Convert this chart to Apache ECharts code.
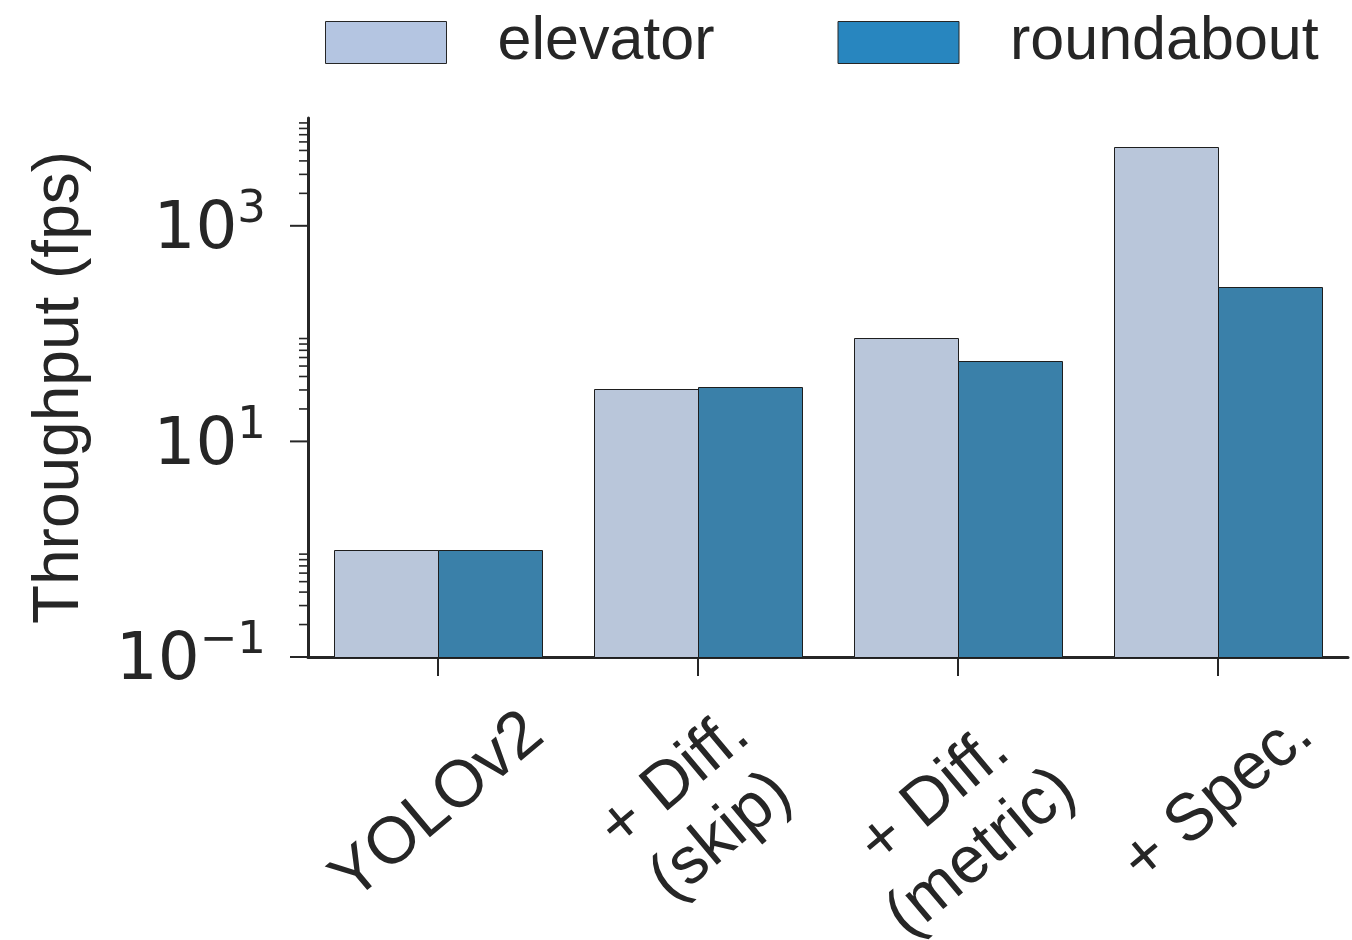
<!DOCTYPE html>
<html><head><meta charset="utf-8">
<script src="https://cdn.jsdelivr.net/npm/echarts@6/dist/echarts.min.js"></script>
<style>html,body{margin:0;padding:0;background:#fff}#c{width:1352px;height:940px}</style>
</head><body><div id="c"></div>
<script>
// ---- data ----
const categories = ['YOLOv2', '+ Diff.\n(skip)', '+ Diff.\n(metric)', '+ Spec.'];
const seriesNames = ['elevator', 'roundabout'];
const elevator = [0.98, 30.7, 91, 5400];
const roundabout = [0.98, 32, 56, 270];
const yMajorTicks = [0.1, 10, 1000];
const yMinorTicks = [0.2, 0.3, 0.4, 0.5, 0.6, 0.7, 0.8, 0.9,
                     20, 30, 40, 50, 60, 70, 80, 90,
                     2000, 3000, 4000, 5000, 6000, 7000, 8000, 9000];
const yTickExponents = ['−1', '1', '3'];
const yMin = 0.1, yMax = 10000;

// ---- styles ----
const INK = '#262626';
const barColors = ['#b9c6da', '#3a80a9'];
const legendColors = ['#b4c5e1', '#2886bf'];
const XFONT = 66, XLINE = 73, XTOP = 702, ROT = 40 * Math.PI / 180;
const BAR_FRACTION = 0.4;

const mctx = document.createElement('canvas').getContext('2d');
mctx.font = XFONT + 'px "Liberation Sans"';
function blockBox(text) {
  const lines = text.split('\n');
  const w = Math.max(...lines.map(l => mctx.measureText(l).width));
  const h = 0.93 * XFONT + (lines.length - 1) * XLINE;
  return w * Math.sin(ROT) + h * Math.cos(ROT);
}

function barSeries(s, values) {
  return {
    name: seriesNames[s], type: 'custom', z: 2, clip: false,
    itemStyle: {color: barColors[s]},
    data: values.map((v, i) => [i, v]),
    encode: {x: 0, y: 1},
    renderItem: function (params, api) {
      const i = params.dataIndex;
      const top = api.coord([i, api.value(1)]);
      const base = api.coord([i, yMin]);
      const bw = api.size([1, 0])[0] * BAR_FRACTION;
      const x = top[0] + (s === 0 ? -bw : 0);
      return {type: 'rect', shape: {x: Math.round(x) + 0.5, y: Math.round(top[1]) + 0.5, width: Math.round(bw), height: Math.round(base[1] - top[1])},
              style: {fill: barColors[s], stroke: '#1e1e1e', lineWidth: 1}};
    }
  };
}

const chart = echarts.init(document.getElementById('c'), null, {renderer: 'canvas'});
const option = {
  animation: false,
  backgroundColor: '#fff',
  grid: {left: 308, right: 4, top: 118, bottom: 283, containLabel: false, outerBoundsMode: 'none'},
  legend: {
    left: 325, top: 12, padding: 0, itemWidth: 121, itemHeight: 42, itemGap: 123,
    icon: 'rect', selectedMode: false,
    data: seriesNames.map((n, i) => ({name: n, itemStyle: {color: legendColors[i], borderColor: INK, borderWidth: 1}})),
    textStyle: {fontFamily: 'Liberation Sans', fontSize: 61, color: INK, padding: [0, 0, 0, 46], lineHeight: 42}
  },
  xAxis: {
    type: 'category', data: categories,
    axisLine: {show: true, onZero: false, lineStyle: {color: INK, width: 3}},
    axisTick: {show: true, alignWithLabel: true, length: 19, lineStyle: {color: INK, width: 2}},
    axisLabel: {show: false},
    splitLine: {show: false}
  },
  yAxis: {
    type: 'log', logBase: 10, min: yMin, max: yMax,
    name: 'Throughput (fps)', nameLocation: 'middle', nameGap: 216,
    nameTextStyle: {fontFamily: 'Liberation Sans', fontSize: 64, color: INK},
    axisLine: {show: true, lineStyle: {color: INK, width: 3}},
    axisTick: {show: false},
    splitLine: {show: false},
    axisLabel: {
      margin: 42,
      padding: [10, 0, 0, 0],
      formatter: function (v) {
        const e = Math.round(Math.log10(v));
        const idx = yMajorTicks.findIndex(t => Math.round(Math.log10(t)) === e);
        if (idx < 0) return '';
        return '{b|10}{s|' + yTickExponents[idx] + '}';
      },
      rich: {
        b: {fontFamily: 'DejaVu Sans', fontSize: 66, lineHeight: 86, color: INK},
        s: {fontFamily: 'DejaVu Sans', fontSize: 45, lineHeight: 45, verticalAlign: 'top', color: INK}
      }
    }
  },
  series: [
    barSeries(0, elevator),
    barSeries(1, roundabout),
    {
      name: 'yticks', type: 'custom', silent: true, z: 5, clip: false,
      data: yMajorTicks.map(v => [0, v, 1]).concat(yMinorTicks.map(v => [0, v, 0])),
      encode: {x: 0, y: 1},
      renderItem: function (params, api) {
        const major = api.value(2) === 1;
        const y = api.coord([0, api.value(1)])[1];
        const x0 = params.coordSys.x;
        const len = major ? 18 : 9;
        return {type: 'line', shape: {x1: x0 - len, y1: y, x2: x0, y2: y},
                style: {stroke: INK, lineWidth: major ? 2 : 1.6}};
      }
    },
    {
      name: 'xlabels', type: 'custom', silent: true, z: 5, clip: false,
      data: categories.map((c, i) => [i, yMin]),
      encode: {x: 0, y: 1},
      renderItem: function (params, api) {
        const i = params.dataIndex;
        const cx = api.coord([i, yMin])[0];
        const text = categories[i];
        const cy = XTOP + blockBox(text) / 2;
        return {type: 'text', x: cx, y: cy, rotation: ROT,
                style: {text: text, fontFamily: 'Liberation Sans', fontSize: XFONT, lineHeight: XLINE,
                        align: 'center', verticalAlign: 'middle', fill: INK}};
      }
    }
  ]
};
chart.setOption(option);
</script>
</body></html>
